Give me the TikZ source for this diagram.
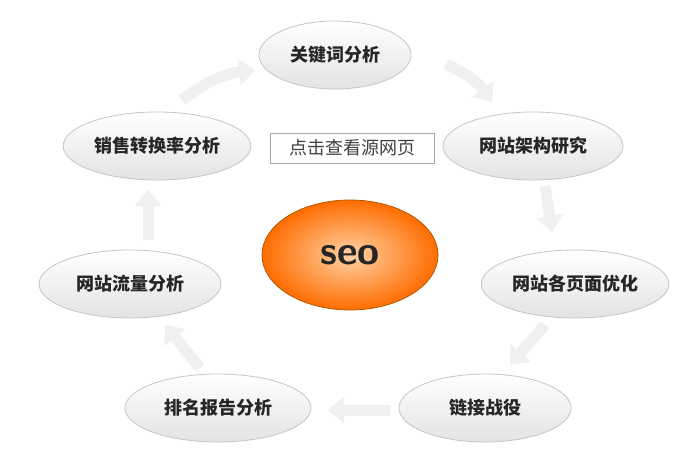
\documentclass[tikz,border=0pt]{standalone}
\usepackage{fontspec}
\setmainfont{Noto Sans CJK SC}
\usetikzlibrary{shapes.geometric,arrows.meta}
\begin{document}
\begin{tikzpicture}[x=1pt,y=-1pt,
  bub/.style={ellipse,draw=gray!45,line width=0.8pt,top color=white,bottom color=gray!22,minimum height=68pt,font=\fontsize{18}{21}\selectfont\bfseries,text=black!85},
  flow/.style={draw=gray!12,line width=11pt,-{Triangle[length=16pt,width=26pt]}}]
\useasboundingbox (0,0) rectangle (700,470);
\fill[white] (0,0) rectangle (700,470);
\node[bub,minimum width=152pt] (a) at (335,55) {关键词分析};
\node[bub,minimum width=180pt] (b) at (533,146) {网站架构研究};
\node[bub,minimum width=172pt] (c) at (575,284) {网站各页面优化};
\node[bub,minimum width=172pt] (d) at (485,408) {链接战役};
\node[bub,minimum width=186pt] (e) at (218,408) {排名报告分析};
\node[bub,minimum width=182pt] (f) at (130,284) {网站流量分析};
\node[bub,minimum width=182pt] (g) at (157,146) {销售转换率分析};
\node[ellipse,draw=orange!70!black,line width=0.8pt,inner color=orange!35!white,outer color=orange!85!red,minimum width=176pt,minimum height=110pt,font=\fontsize{40}{44}\selectfont\sffamily\bfseries,text=black!85] (s) at (350,255) {seo};
\node[draw=gray!70,fill=white,minimum width=164pt,minimum height=30pt,inner sep=2pt,font=\fontsize{18}{21}\selectfont,text=black!75] (l) at (352,148) {点击查看源网页};
\coordinate (a1) at (446,64); \coordinate (a2) at (492,102);
\draw[flow] (a1) to[bend left=15] (a2);
\coordinate (b1) at (545,186); \coordinate (b2) at (552,232);
\draw[flow] (b1) to (b2);
\coordinate (c1) at (545,325); \coordinate (c2) at (510,365);
\draw[flow] (c1) to (c2);
\coordinate (d1) at (390,410); \coordinate (d2) at (328,410);
\draw[flow] (d1) to (d2);
\coordinate (e1) at (200,368); \coordinate (e2) at (165,325);
\draw[flow] (e1) to (e2);
\coordinate (f1) at (148,240); \coordinate (f2) at (148,190);
\draw[flow] (f1) to (f2);
\coordinate (g1) at (182,100); \coordinate (g2) at (255,70);
\draw[flow] (g1) to[bend left=15] (g2);
\end{tikzpicture}
\end{document}
